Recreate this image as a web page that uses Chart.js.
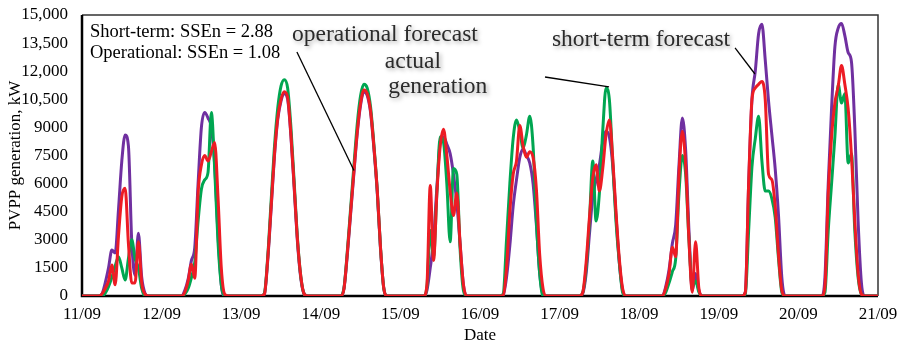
<!DOCTYPE html>
<html>
<head>
<meta charset="utf-8">
<script src="https://cdn.jsdelivr.net/npm/chart.js@4.4.1/dist/chart.umd.min.js"></script>
<style>
  html, body { margin: 0; padding: 0; background: #fff; }
  #wrap { width: 903px; height: 346px; }
</style>
</head>
<body>
<div id="wrap"><canvas id="c" width="903" height="346"></canvas></div>
<script>
// Hourly PV power plant output, kW, 11/09 00:00 to 21/09 00:00 (one row per day)
const actualGeneration = [
  0,0,0,0,0,0,0,150,500,1000,1600,2100,1500,850,2000,3000,2000,1500,400,0,0,0,0,0,
  0,0,0,0,0,0,0,100,400,1000,1800,4000,5700,6200,6600,9800,6800,2900,600,0,0,0,0,0,
  0,0,0,0,0,0,0,150,2100,5000,7900,10000,11200,11550,11100,9000,6000,3000,1000,100,0,0,0,0,
  0,0,0,0,0,0,0,450,2400,4700,7000,9200,10700,11300,11100,10100,8100,5700,2600,400,0,0,0,0,
  0,0,0,0,0,0,0,0,500,3500,2100,5500,8500,8200,6000,2900,6800,6500,2500,300,0,0,0,0,
  0,0,0,0,0,0,0,100,3000,6000,8400,9400,8800,7900,8600,9600,8000,4000,1200,0,0,0,0,0,
  0,0,0,0,0,0,0,200,1500,4000,7200,4000,5500,8800,11100,10500,7200,4000,1800,200,0,0,0,0,
  0,0,0,0,0,0,0,0,200,700,1300,2000,5500,7500,6500,3000,500,800,200,0,0,0,0,0,
  0,0,0,0,0,0,0,0,100,3500,6900,8400,9600,7200,5600,5600,5200,4200,2000,200,0,0,0,0,
  0,0,0,0,0,0,0,0,200,3500,6000,8500,11300,10300,10800,7100,7600,3500,1000,100,0,0,0,0,
  0
];

const operationalForecast = [
  0,0,0,0,0,0,100,400,800,1650,600,3200,5300,5750,2800,700,700,2900,700,100,0,0,0,0,
  0,0,0,0,0,0,0,200,800,1700,950,5500,7000,7500,7200,7700,8200,5300,1500,100,0,0,0,0,
  0,0,0,0,0,0,0,100,2000,4700,7500,9500,10500,10900,10600,8600,5800,2900,1000,100,0,0,0,0,
  0,0,0,0,0,0,0,400,2300,4500,6700,8800,10300,11000,10800,9900,8000,5700,2600,400,0,0,0,0,
  0,0,0,0,0,0,0,0,600,5900,1900,5500,8000,8900,7500,5600,4300,5500,2800,600,0,0,0,0,
  0,0,0,0,0,0,0,50,1500,4500,6500,7200,9100,8000,7400,7700,7400,5700,2200,400,0,0,0,0,
  0,0,0,0,0,0,0,200,1800,4200,6300,7000,5600,6800,8600,9400,7400,4500,2000,400,0,0,0,0,
  0,0,0,0,0,0,0,0,400,1200,2600,2100,6500,8800,7000,3000,200,2900,400,0,0,0,0,0,
  0,0,0,0,0,0,0,0,200,6000,10500,11100,11300,11450,10500,6500,6200,4800,2200,300,0,0,0,0,
  0,0,0,0,0,0,0,0,500,5500,8500,10300,11200,12300,11300,10000,7500,4000,1200,100,0,0,0,0,
  0
];

const shortTermForecast = [
  0,0,0,0,0,0,100,700,1500,2450,2300,4600,7200,8600,8000,2900,1100,3350,1000,150,0,0,0,0,
  0,0,0,0,0,0,0,300,900,1900,2600,6000,9000,9800,9500,9000,7000,3300,600,0,0,0,0,0,
  0,0,0,0,0,0,0,100,1900,4600,7400,9400,10400,10800,10500,8500,5700,2800,900,100,0,0,0,0,
  0,0,0,0,0,0,0,400,2200,4400,6600,8700,10200,10900,10700,9800,7900,5600,2500,400,0,0,0,0,
  0,0,0,0,0,0,0,0,300,1500,3000,5800,8200,8500,8100,7600,6500,5000,2800,600,0,0,0,0,
  0,0,0,0,0,0,0,50,1000,2700,4800,6200,7400,7850,7500,7100,6000,3800,1200,100,0,0,0,0,
  0,0,0,0,0,0,0,150,1200,3300,5300,6200,7000,8200,8800,8500,7000,4300,1800,300,0,0,0,0,
  0,0,0,0,0,0,0,0,500,1400,2800,3800,7000,9500,7800,3500,300,1200,300,0,0,0,0,0,
  0,0,0,0,0,0,0,0,200,6000,10500,12000,14000,14500,12600,10400,8600,6800,4300,1000,0,0,0,0,
  0,0,0,0,0,0,0,0,1000,6000,10000,13300,14300,14550,13900,13000,12500,9000,4000,700,0,0,0,0,
  0
];

const dateLabels = ['11/09','12/09','13/09','14/09','15/09','16/09','17/09','18/09','19/09','20/09','21/09'];

const toPoints = arr => arr.map((v, i) => ({ x: i, y: v }));
const axisFont = { family: 'Liberation Serif', size: 17 };

// Text notes and pointer lines, placed in (hour, kW) units
const statNotes = [
  { text: 'Short-term: SSEn = 2.88', h: 2.4, kw: 14090 },
  { text: 'Operational: SSEn = 1.08', h: 2.4, kw: 12970 }
];
const seriesNotes = [
  { text: 'operational forecast', h: 63.3, kw: 13930 },
  { text: 'actual', h: 91.3, kw: 12490 },
  { text: 'generation', h: 92.3, kw: 11160 },
  { text: 'short-term forecast', h: 141.7, kw: 13670 }
];
const pointers = [
  { from: [64.8, 13025], to: [82.0, 6700] },
  { from: [139.6, 11690], to: [158.9, 11160] },
  { from: [196.9, 13240], to: [202.9, 11850] }
];

const framePlugin = {
  id: 'frame',
  beforeDatasetsDraw(chart) {
    const { ctx, chartArea: a } = chart;
    ctx.save();
    ctx.strokeStyle = '#333';
    ctx.lineWidth = 1.5;
    ctx.beginPath();
    ctx.moveTo(a.left, a.top); ctx.lineTo(a.right, a.top); ctx.lineTo(a.right, a.bottom);
    ctx.stroke();
    ctx.strokeStyle = '#000';
    ctx.lineWidth = 2.5;
    ctx.beginPath();
    ctx.moveTo(a.left, a.top); ctx.lineTo(a.left, a.bottom); ctx.lineTo(a.right, a.bottom);
    ctx.stroke();
    ctx.restore();
  }
};

const notesPlugin = {
  id: 'notes',
  afterDatasetsDraw(chart) {
    const { ctx, scales: { x, y } } = chart;
    ctx.save();
    ctx.textBaseline = 'middle';
    ctx.textAlign = 'left';
    ctx.fillStyle = '#000';
    ctx.font = '18.5px "Liberation Serif"';
    statNotes.forEach(n => ctx.fillText(n.text, x.getPixelForValue(n.h), y.getPixelForValue(n.kw)));

    ctx.strokeStyle = '#000';
    ctx.lineWidth = 1.3;
    pointers.forEach(p => {
      ctx.beginPath();
      ctx.moveTo(x.getPixelForValue(p.from[0]), y.getPixelForValue(p.from[1]));
      ctx.lineTo(x.getPixelForValue(p.to[0]), y.getPixelForValue(p.to[1]));
      ctx.stroke();
    });

    ctx.font = '23.5px "Liberation Serif"';
    ctx.fillStyle = '#2b2b2b';
    ctx.shadowColor = 'rgba(0,0,0,0.35)';
    ctx.shadowBlur = 4;
    ctx.shadowOffsetX = 2;
    ctx.shadowOffsetY = 2;
    seriesNotes.forEach(n => ctx.fillText(n.text, x.getPixelForValue(n.h), y.getPixelForValue(n.kw)));
    ctx.restore();
  }
};

new Chart(document.getElementById('c'), {
  type: 'line',
  data: {
    datasets: [
      { label: 'operational forecast', data: toPoints(operationalForecast), borderColor: '#ED1C24' },
      { label: 'actual generation', data: toPoints(actualGeneration), borderColor: '#00A651' },
      { label: 'short-term forecast', data: toPoints(shortTermForecast), borderColor: '#7030A0' }
    ]
  },
  options: {
    responsive: false,
    animation: false,
    layout: { padding: { top: 15, right: 25, left: 0, bottom: 0 } },
    plugins: { legend: { display: false }, tooltip: { enabled: false } },
    elements: {
      point: { radius: 0 },
      line: { borderWidth: 3, cubicInterpolationMode: 'monotone', fill: false }
    },
    scales: {
      x: {
        type: 'linear', min: 0, max: 240,
        ticks: {
          stepSize: 24, autoSkip: false, maxRotation: 0, padding: 8,
          color: '#000', font: axisFont,
          callback: v => (v % 24 === 0 ? dateLabels[v / 24] : '')
        },
        grid: { display: false, drawTicks: false },
        border: { display: false },
        title: { display: true, text: 'Date', color: '#000', font: axisFont, padding: { top: 0, bottom: 0 } },
        afterFit: s => { s.height = 50; s.paddingLeft = 0; s.paddingRight = 0; }
      },
      y: {
        min: 0, max: 15000,
        ticks: {
          stepSize: 1500, autoSkip: false, padding: 14,
          color: '#000', font: axisFont,
          callback: v => (v >= 10000 ? v.toLocaleString('en-US') : String(v))
        },
        grid: { display: false, drawTicks: false },
        border: { display: false },
        title: { display: true, text: 'PVPP generation, kW', color: '#000', font: axisFont, padding: { top: 5, bottom: 4 } },
        afterFit: s => { s.width = 82; s.paddingTop = 0; s.paddingBottom = 0; }
      }
    }
  },
  plugins: [framePlugin, notesPlugin]
});
</script>
</body>
</html>
